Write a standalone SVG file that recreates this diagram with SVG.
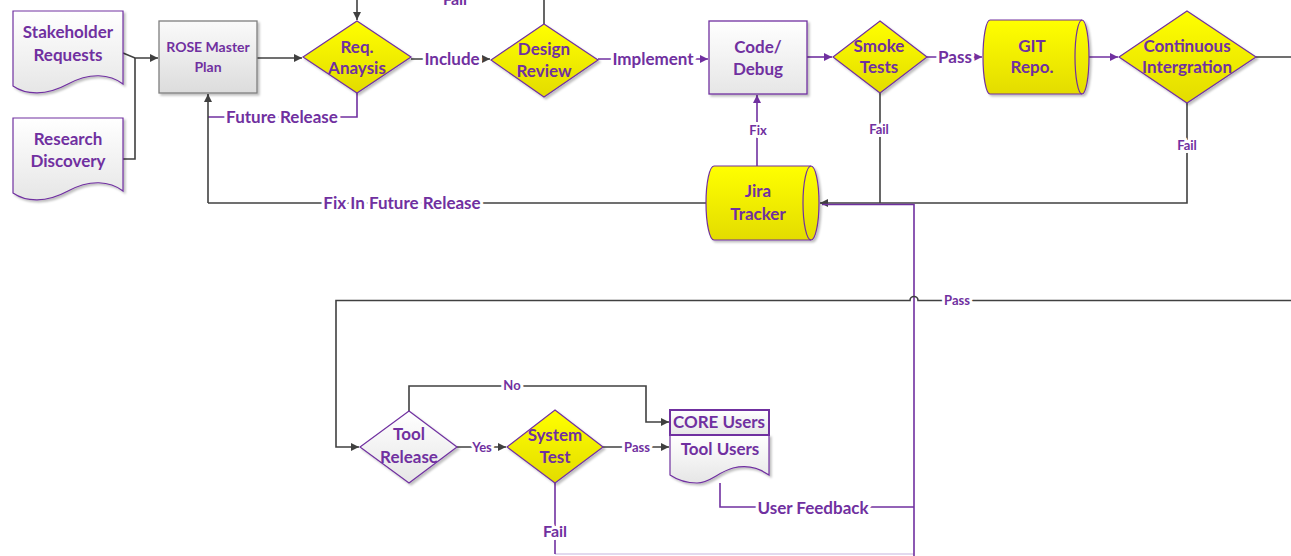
<svg xmlns="http://www.w3.org/2000/svg" width="1291" height="556" viewBox="0 0 1291 556">
  <defs>
    <linearGradient id="gYellow" x1="0" y1="0" x2="0" y2="1">
      <stop offset="0" stop-color="#FFFF00"/>
      <stop offset="1" stop-color="#E3DC00"/>
    </linearGradient>
    <linearGradient id="gGray" x1="0" y1="0" x2="0" y2="1">
      <stop offset="0" stop-color="#FAFAFA"/>
      <stop offset="1" stop-color="#DCDCDC"/>
    </linearGradient>
    <linearGradient id="gLight" x1="0" y1="0" x2="0" y2="1">
      <stop offset="0" stop-color="#FFFFFF"/>
      <stop offset="1" stop-color="#E6E6E6"/>
    </linearGradient>
    <filter id="shadow" x="-10%" y="-10%" width="125%" height="130%">
      <feDropShadow dx="2" dy="2" stdDeviation="1.2" flood-color="#000" flood-opacity="0.25"/>
    </filter>
    <marker id="arrDark" viewBox="0 0 10 10" refX="10" refY="5" markerWidth="9" markerHeight="8" markerUnits="userSpaceOnUse" orient="auto">
      <path d="M0,0 L10,5 L0,10 Z" fill="#404040"/>
    </marker>
    <marker id="arrPurple" viewBox="0 0 10 10" refX="10" refY="5" markerWidth="9" markerHeight="8" markerUnits="userSpaceOnUse" orient="auto">
      <path d="M0,0 L10,5 L0,10 Z" fill="#7030A0"/>
    </marker>
    <style>
      text { font-family: "Lato", "Liberation Sans", sans-serif; font-weight: bold; fill: #7030A0; text-anchor: middle; }
      .t17 { font-size: 17px; }
      .t16 { font-size: 16px; }
      .t14 { font-size: 14px; }
      .t13 { font-size: 13px; }
      .lab { paint-order: stroke; stroke: #FFFFFF; stroke-width: 6px; stroke-linejoin: round; }
      .yellow { fill: url(#gYellow); stroke: #7030A0; stroke-width: 1.2; filter: url(#shadow); }
      .doc { fill: url(#gLight); stroke: #7030A0; stroke-width: 1.2; filter: url(#shadow); }
      .box { stroke-width: 1.3; filter: url(#shadow); }
      .dark { fill: none; stroke: #404040; stroke-width: 1.6; }
      .purple { fill: none; stroke: #7030A0; stroke-width: 1.6; }
      .lav { fill: none; stroke: #D9CCE8; stroke-width: 1.6; }
    </style>
  </defs>

  <rect width="1291" height="556" fill="#FFFFFF"/>

  <!-- connectors -->
  <g id="connectors">
    <!-- inputs into the master plan -->
    <path class="dark" d="M123,53 L135,58 L158,58" marker-end="url(#arrDark)"/>
    <path class="dark" d="M123,159 L135,159 L135,58"/>
    <path class="dark" d="M257,58 L302,58" marker-end="url(#arrDark)"/>
    <path class="dark" d="M357,0 L357,20" marker-end="url(#arrDark)"/>
    <path class="dark" d="M544,24 L544,0"/>
    <text class="t16" x="455" y="5">Fail</text>

    <!-- main row -->
    <path class="dark" d="M411,59 L490,59" marker-end="url(#arrDark)"/>
    <text class="t17 lab" x="452" y="65">Include</text>
    <path class="purple" d="M598,59 L708,59" marker-end="url(#arrPurple)"/>
    <text class="t17 lab" x="653" y="65">Implement</text>
    <path class="purple" d="M807,57 L832,57" marker-end="url(#arrPurple)"/>
    <path class="purple" d="M927,57 L982,57" marker-end="url(#arrPurple)"/>
    <text class="t17 lab" x="955" y="63">Pass</text>
    <path class="purple" d="M1080,57 L1118,57" marker-end="url(#arrPurple)"/>
    <path class="dark" d="M1256,57 L1291,57"/>

    <!-- future release loop -->
    <path class="purple" d="M357,93 L357,117 L208,117"/>
    <path class="dark" d="M208,203 L208,94" marker-end="url(#arrDark)"/>
    <text class="t17 lab" x="282" y="123">Future Release</text>

    <!-- jira loop -->
    <path class="dark" d="M706,203 L208,203"/>
    <text class="t17 lab" x="402" y="209">Fix In Future Release</text>
    <path class="purple" d="M757,166 L757,95" marker-end="url(#arrPurple)"/>
    <text class="t13 lab" x="758" y="135">Fix</text>
    <path class="dark" d="M880,93 L880,203"/>
    <text class="t13 lab" x="879" y="134">Fail</text>
    <path class="dark" d="M1187,103 L1187,203 L820,203" marker-end="url(#arrDark)"/>
    <text class="t13 lab" x="1187" y="150">Fail</text>

    <!-- feedback trunk back to the tracker -->
    <path class="lav" d="M555,554 L914,554"/>
    <path class="purple" d="M720,483 L720,507 L914,507"/>
    <path class="purple" d="M914,556 L914,204.5 L822,204.5"/>
    <text class="t17 lab" x="813" y="514">User Feedback</text>

    <!-- pass line down to the release decision -->
    <path class="dark" d="M1291,300.5 L918,300.5 A4,4 0 0 0 910,300.5 L336,300.5 L336,447 L359,447" marker-end="url(#arrDark)"/>
    <text class="t13 lab" x="957" y="305">Pass</text>

    <!-- release decision -->
    <path class="dark" d="M409,411 L409,386 L646,386 L646,422 L669,422" marker-end="url(#arrDark)"/>
    <text class="t13 lab" x="512" y="390">No</text>
    <path class="dark" d="M457,447 L506,447" marker-end="url(#arrDark)"/>
    <text class="t13 lab" x="482" y="452">Yes</text>
    <path class="dark" d="M603,447 L669,447" marker-end="url(#arrDark)"/>
    <text class="t13 lab" x="637" y="452">Pass</text>
    <path class="purple" d="M555,483 L555,554"/>
    <text class="t16 lab" x="555" y="537">Fail</text>
  </g>

  <!-- nodes -->
  <g id="stakeholder-requests">
    <path class="doc" d="M13,11 H123 V84 C110,74 90,72 68,84 C46,96 26,95 13,86 Z"/>
    <text class="t17" x="68" y="38">Stakeholder</text>
    <text class="t17" x="68" y="61">Requests</text>
  </g>

  <g id="research-discovery">
    <path class="doc" d="M13,118 H123 V191 C110,181 90,179 68,191 C46,203 26,202 13,193 Z"/>
    <text class="t17" x="68" y="145">Research</text>
    <text class="t17" x="68" y="167">Discovery</text>
  </g>

  <g id="rose-master-plan">
    <rect class="box" x="159" y="21" width="98" height="72" fill="url(#gGray)" stroke="#7F7F7F"/>
    <text class="t14" x="208" y="52">ROSE Master</text>
    <text class="t14" x="208" y="72">Plan</text>
  </g>

  <g id="req-analysis">
    <path class="yellow" d="M357,21 L411,57 L357,93 L303,57 Z"/>
    <text class="t17" x="357" y="53">Req.</text>
    <text class="t17" x="357" y="74">Anaysis</text>
  </g>

  <g id="design-review">
    <path class="yellow" d="M544,24 L598,60 L544,97 L491,60 Z"/>
    <text class="t17" x="544" y="55">Design</text>
    <text class="t17" x="544" y="77">Review</text>
  </g>

  <g id="code-debug">
    <rect class="box" x="709" y="21" width="98" height="73" fill="url(#gLight)" stroke="#7030A0"/>
    <text class="t17" x="758" y="53">Code/</text>
    <text class="t17" x="758" y="75">Debug</text>
  </g>

  <g id="smoke-tests">
    <path class="yellow" d="M880,21 L927,57 L880,93 L833,57 Z"/>
    <text class="t17" x="879" y="52">Smoke</text>
    <text class="t17" x="879" y="73">Tests</text>
  </g>

  <g id="git-repo">
    <path class="yellow" d="M990,20 L1082,20 A7,37 0 0 1 1082,94 L990,94 A7,37 0 0 1 990,20 Z"/>
    <path d="M1082,20 A7,37 0 0 0 1082,94" fill="none" stroke="#7030A0" stroke-width="1.2"/>
    <text class="t17" x="1032" y="52">GIT</text>
    <text class="t17" x="1032" y="73">Repo.</text>
  </g>

  <g id="continuous-integration">
    <path class="yellow" d="M1187,11 L1256,57 L1187,103 L1119,57 Z"/>
    <text class="t17" x="1187" y="52">Continuous</text>
    <text class="t17" x="1187" y="73">Intergration</text>
  </g>

  <g id="jira-tracker">
    <path class="yellow" d="M714,166 L811,166 A8,37 0 0 1 811,240 L714,240 A8,37 0 0 1 714,166 Z"/>
    <path d="M811,166 A8,37 0 0 0 811,240" fill="none" stroke="#7030A0" stroke-width="1.2"/>
    <text class="t17" x="758" y="197">Jira</text>
    <text class="t17" x="758" y="220">Tracker</text>
  </g>

  <g id="tool-release">
    <path d="M409,411 L457,447 L409,483 L360,447 Z" fill="url(#gLight)" stroke="#7030A0" stroke-width="1.2" filter="url(#shadow)"/>
    <text class="t17" x="409" y="440">Tool</text>
    <text class="t17" x="409" y="463">Release</text>
  </g>

  <g id="system-test">
    <path class="yellow" d="M555,410 L603,447 L555,483 L507,447 Z"/>
    <text class="t17" x="555" y="441">System</text>
    <text class="t17" x="555" y="463">Test</text>
  </g>

  <g id="users">
    <path class="doc" d="M670,435 H769 V475 C758,467 745,465 733,468 C718,472 710,483 697,483 C685,483 676,479 670,475 Z"/>
    <rect x="670" y="410" width="99" height="25" fill="url(#gLight)" stroke="#7030A0" stroke-width="2"/>
    <text class="t17" x="719" y="428">CORE Users</text>
    <text class="t17" x="720" y="455">Tool Users</text>
  </g>
</svg>
